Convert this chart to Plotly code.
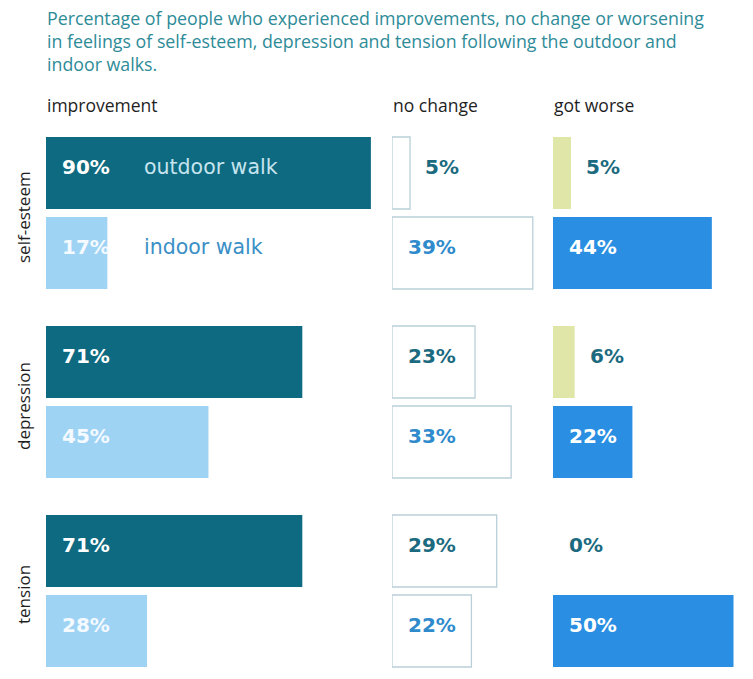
import plotly.graph_objects as go

# ---------------- data ----------------
categories = ["self-esteem", "depression", "tension"]
series = ["outdoor walk", "indoor walk"]
measures = ["improvement", "no change", "got worse"]

improvement_outdoor = [90, 71, 71]
improvement_indoor = [17, 45, 28]
nochange_outdoor = [5, 23, 29]
nochange_indoor = [39, 33, 22]
worse_outdoor = [5, 6, 0]
worse_indoor = [44, 22, 50]

title_text = ("Percentage of people who experienced improvements, no change or worsening<br>"
              "in feelings of self-esteem, depression and tension following the outdoor and<br>"
              "indoor walks.")

# ---------------- layout constants ----------------
W, H = 753, 679
PX = 3.61                       # pixels per percentage point
panel_start = [46, 392, 553]    # left edge of each panel (px)
panel_end = [389, 551, 753]
top0, group_pitch, row_pitch, bar_h = 137, 189, 80, 72

values = {
    "improvement": [improvement_outdoor, improvement_indoor],
    "no change": [nochange_outdoor, nochange_indoor],
    "got worse": [worse_outdoor, worse_indoor],
}
fills = {
    "improvement": ["#0e6a80", "#9fd3f4"],
    "no change": ["#ffffff", "#ffffff"],
    "got worse": ["#dfe6a8", "#2a8fe2"],
}
outlines = {
    "improvement": [None, None],
    "no change": ["#b9d0d8", "#b9d0d8"],
    "got worse": [None, None],
}
label_inside_colors = {
    "improvement": ["#ffffff", "#f4faff"],
    "no change": ["#1b6a80", "#2f8bcc"],
    "got worse": ["#1b6a80", "#ffffff"],
}
label_outside_color = "#1b6a80"

LABEL_FONT = dict(family="DejaVu Sans", size=20, color="#ffffff", weight="bold")
TEXT_FONT = "Open Sans"
LABEL_YSHIFT = 6

def row_center(g, s):
    return top0 + g * group_pitch + s * row_pitch + bar_h / 2

fig = go.Figure()
annotations = []
axis_ids = ["x", "x2", "x3"]

for p, m in enumerate(measures):
    ax = axis_ids[p]
    for s, ser in enumerate(series):
        vals = values[m][s]
        ys = [row_center(g, s) for g in range(len(categories))]
        line = outlines[m][s]
        fig.add_trace(go.Bar(
            orientation="h", x=vals, y=ys, width=bar_h,
            name=f"{m} – {ser}", xaxis=ax, yaxis="y",
            marker=dict(color=fills[m][s],
                        line=dict(color=line if line else "rgba(0,0,0,0)",
                                  width=1.3 if line else 0)),
            hovertemplate=f"{m}, {ser}: %{{x}}%<extra></extra>",
            showlegend=False,
        ))
        for g, v in enumerate(vals):
            outside = 0 < v < 10
            annotations.append(dict(
                x=v if outside else 0, y=ys[g], xref=ax, yref="y",
                text=f"{v}%", showarrow=False, xanchor="left", yanchor="middle",
                xshift=13 if outside else 14, yshift=LABEL_YSHIFT,
                font=dict(LABEL_FONT, color=label_outside_color if outside else label_inside_colors[m][s]),
            ))
    # panel header
    annotations.append(dict(
        x=panel_start[p] / W, y=1 - 105 / H, xref="paper", yref="paper",
        text=m, showarrow=False, xanchor="left", yanchor="middle", xshift=-1,
        font=dict(family=TEXT_FONT, size=17.5, color="#1e1e1e"),
    ))

# series labels inside the first group
series_label_colors = ["#c6e4ef", "#3a8fc6"]
for s, ser in enumerate(series):
    annotations.append(dict(
        x=142 / W, y=row_center(0, s), xref="paper", yref="y",
        text=ser, showarrow=False, xanchor="left", yanchor="middle",
        yshift=LABEL_YSHIFT,
        font=dict(family="DejaVu Sans", size=20.5, color=series_label_colors[s]),
    ))

# category labels (rotated)
for g, c in enumerate(categories):
    yc = (row_center(g, 0) + row_center(g, 1)) / 2
    annotations.append(dict(
        x=23 / W, y=yc, xref="paper", yref="y", text=c, textangle=-90,
        showarrow=False, xanchor="center", yanchor="middle", yshift=-4,
        font=dict(family=TEXT_FONT, size=17, color="#1e1e1e"),
    ))

# title
annotations.append(dict(
    x=45 / W, y=1 - 4 / H, xref="paper", yref="paper", text=title_text,
    showarrow=False, xanchor="left", yanchor="top", align="left",
    font=dict(family=TEXT_FONT, size=17.8, color="#2e8b98"),
))

hidden = dict(visible=False, showgrid=False, zeroline=False, fixedrange=True)
layout_axes = {}
for p, ax in enumerate(axis_ids):
    key = "xaxis" if p == 0 else f"xaxis{p + 1}"
    layout_axes[key] = dict(hidden, domain=[panel_start[p] / W, panel_end[p] / W],
                            range=[0, (panel_end[p] - panel_start[p]) / PX], anchor="y")

fig.update_layout(
    width=W, height=H, margin=dict(l=0, r=0, t=0, b=0),
    paper_bgcolor="#ffffff", plot_bgcolor="rgba(0,0,0,0)",
    yaxis=dict(hidden, domain=[0, 1], range=[H, 0]),
    annotations=annotations, barmode="overlay",
    **layout_axes,
)

fig.write_html("out.html")
